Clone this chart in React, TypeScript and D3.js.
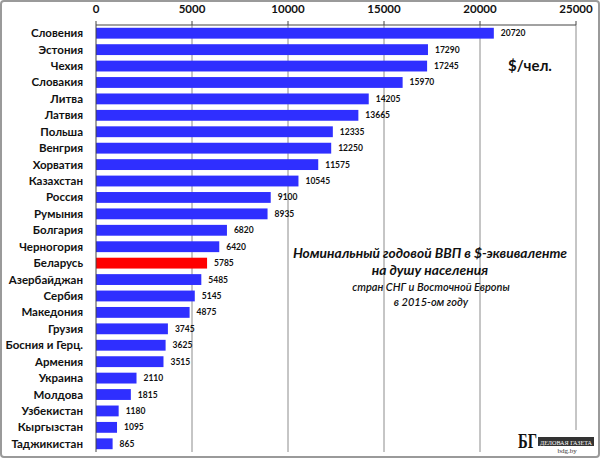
import React from 'react';
import * as d3 from 'd3';

const countries = [
  'Словения', 'Эстония', 'Чехия', 'Словакия', 'Литва', 'Латвия', 'Польша', 'Венгрия',
  'Хорватия', 'Казахстан', 'Россия', 'Румыния', 'Болгария', 'Черногория', 'Беларусь',
  'Азербайджан', 'Сербия', 'Македония', 'Грузия', 'Босния  и Герц.', 'Армения', 'Украина',
  'Молдова', 'Узбекистан', 'Кыргызстан', 'Таджикистан'
];
const gdp = [
  20720, 17290, 17245, 15970, 14205, 13665, 12335, 12250, 11575, 10545, 9100, 8935, 6820,
  6420, 5785, 5485, 5145, 4875, 3745, 3625, 3515, 2110, 1815, 1180, 1095, 865
];
const ticks = [0, 5000, 10000, 15000, 20000, 25000];
const highlight = 'Беларусь';

const W = 600;
const H = 458;
const font = 'Lato, "Open Sans", sans-serif';

export default function App() {
  const x = d3.scaleLinear().domain([0, 25000]).range([96, 576]);
  const y = d3.scaleBand<string>().domain(countries).range([25, 452]).paddingInner(0.34).paddingOuter(0.17);

  return (
    <svg width={W} height={H} style={{ position: 'absolute', left: 0, top: 0, background: '#fff' }}>
      <rect x={1} y={1} width={W - 2} height={H - 2} rx={3} fill="#fff" stroke="#9a9a9a" strokeWidth={2} />

      {/* grid */}
      {ticks.slice(1).map((t) => (
        <line key={`g${t}`} x1={x(t)} x2={x(t)} y1={25} y2={452} stroke="#8c8c8c" strokeWidth={1} />
      ))}

      {/* top axis */}
      <line x1={x(0)} x2={x(25000)} y1={25} y2={25} stroke="#444" strokeWidth={1} />
      {ticks.map((t) => (
        <g key={`t${t}`}>
          <line x1={x(t)} x2={x(t)} y1={21} y2={25} stroke="#444" />
          <text x={x(t)} y={13} textAnchor="middle" fontFamily={font} fontWeight="bold" fontSize={11.5} fill="#111">
            {t}
          </text>
        </g>
      ))}

      {/* bars */}
      {countries.map((c, i) => (
        <g key={c}>
          <rect
            x={x(0)}
            y={y(c)}
            width={x(gdp[i]) - x(0)}
            height={y.bandwidth()}
            fill={c === highlight ? '#ff0000' : '#2f2fff'}
          />
          <text
            x={x(gdp[i]) + 7}
            y={y(c)! + y.bandwidth() / 2 + 3}
            fontFamily={font}
            fontWeight="bold"
            fontSize={8.5}
            fill="#111"
          >
            {gdp[i]}
          </text>
          <text
            x={83}
            y={y(c)! + y.bandwidth() / 2 + 4}
            textAnchor="end"
            fontFamily={font}
            fontWeight="bold"
            fontSize={11.5}
            fill="#111"
          >
            {c}
          </text>
        </g>
      ))}
      <line x1={x(0)} x2={x(0)} y1={25} y2={452} stroke="#444" strokeWidth={1} />

      <text x={530} y={71} textAnchor="middle" fontFamily={font} fontWeight="bold" fontSize={15} fill="#111">
        $/чел.
      </text>

      {/* title */}
      <g fontFamily={font} fontStyle="italic" fill="#111" textAnchor="middle">
        <text x={430} y={258} fontSize={13.8} fontWeight="bold">Номинальный годовой ВВП в $-эквиваленте</text>
        <text x={430} y={275} fontSize={13.8} fontWeight="bold">на душу населения</text>
        <text x={431} y={291} fontSize={11} fontWeight={600}>стран  СНГ  и Восточной  Европы</text>
        <text x={431} y={306} fontSize={11} fontWeight={600}>в 2015-ом году</text>
      </g>

      {/* logo on white patch */}
      <g>
        <rect x={514} y={430} width={82} height={25} fill="#fff" />
        <text x={518} y={448} fontFamily='"Liberation Serif", serif' fontWeight="bold" fontSize={21} fill="#111"
          textLength={19} lengthAdjust="spacingAndGlyphs">
          БГ
        </text>
        <rect x={538} y={437} width={56} height={9} fill="#333" />
        <text x={540} y={444.5} fontFamily='"Liberation Serif", serif' fontSize={6.4} fill="#fff"
          textLength={52} lengthAdjust="spacingAndGlyphs">
          ДЕЛОВАЯ ГАЗЕТА
        </text>
        <text x={567} y={453} textAnchor="middle" fontFamily='"Liberation Serif", serif' fontSize={7} fill="#333">
          bdg.by
        </text>
      </g>
    </svg>
  );
}
